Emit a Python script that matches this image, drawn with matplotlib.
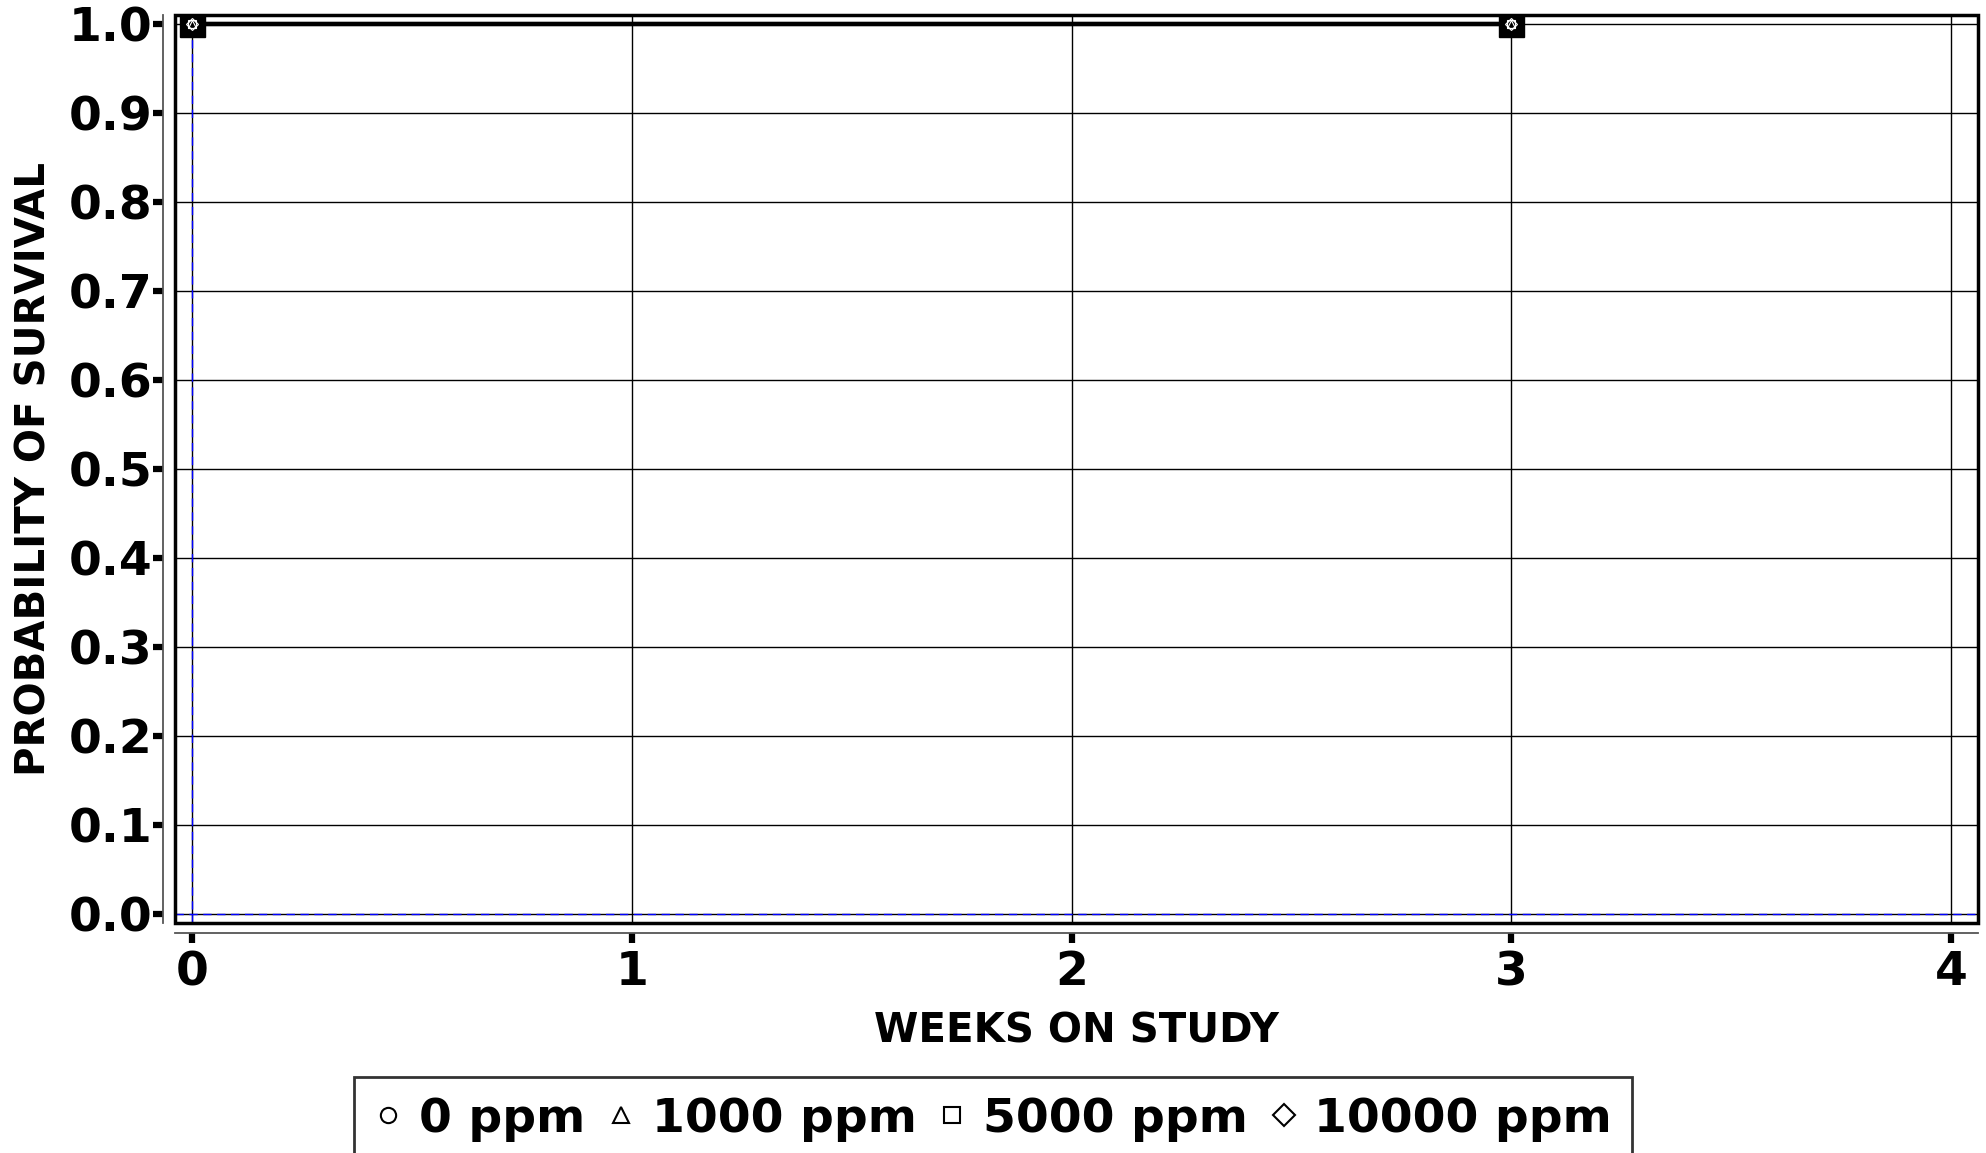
import matplotlib
matplotlib.use("Agg")
import matplotlib.pyplot as plt
from matplotlib.patches import Rectangle

# Survival data (Kaplan-Meier steps) per dose group
groups = ["0 ppm", "1000 ppm", "5000 ppm", "10000 ppm"]
markers = ["o", "^", "s", "D"]
weeks = [0, 3]
survival = {
    "0 ppm": [1.0, 1.0],
    "1000 ppm": [1.0, 1.0],
    "5000 ppm": [1.0, 1.0],
    "10000 ppm": [1.0, 1.0],
}
x_ticks = [0, 1, 2, 3, 4]
y_ticks = [0.0, 0.1, 0.2, 0.3, 0.4, 0.5, 0.6, 0.7, 0.8, 0.9, 1.0]

plt.rcParams["font.family"] = "DejaVu Sans"
plt.rcParams["font.weight"] = "bold"

fig = plt.figure(figsize=(19.86, 11.53), dpi=100)
ax = fig.add_axes([0.0881, 0.1995, 0.9079, 0.7875])

# grid and reference lines
ax.set_xticks(x_ticks)
ax.set_yticks(y_ticks)
ax.grid(True, color="black", linewidth=1.0)
ax.axvline(0, color="blue", linestyle="--", linewidth=1.0, dashes=(6, 4), zorder=2)
ax.axhline(0, color="blue", linestyle="--", linewidth=1.0, dashes=(6, 4), zorder=2)

# survival curves with group markers
for g, m in zip(groups, markers):
    ax.plot(weeks, survival[g], color="black", linewidth=3, zorder=3)
ax.plot(weeks, survival[groups[2]], linestyle="none", marker="s", markersize=18,
        markerfacecolor="black", markeredgecolor="black", zorder=4)
for g, m in zip(groups, markers):
    ax.plot(weeks, survival[g], linestyle="none", marker=m, markersize=6,
            markerfacecolor="none", markeredgecolor="white", markeredgewidth=0.8, zorder=5)

ax.set_xlim(-0.0387, 4.061)
ax.set_ylim(-0.0101, 1.0101)

# offset axis lines with heavy ticks, plus a separate frame
for s in ["top", "right"]:
    ax.spines[s].set_visible(False)
ax.spines["left"].set_position(("outward", 8.5))
ax.spines["bottom"].set_position(("outward", 7.5))
for s in ["left", "bottom"]:
    ax.spines[s].set_color("#555555")
    ax.spines[s].set_linewidth(1.3)
ax.add_patch(Rectangle((0, 0), 1, 1, transform=ax.transAxes, fill=False,
                       edgecolor="black", linewidth=2.5, clip_on=False, zorder=6))

ax.tick_params(axis="both", direction="out", length=7, width=4.5, color="black",
               labelsize=34)
ax.tick_params(axis="y", pad=1)
ax.tick_params(axis="x", pad=5)
ax.set_yticklabels([f"{v:.1f}" for v in y_ticks], fontweight="bold")
ax.set_xticklabels([str(v) for v in x_ticks], fontweight="bold")

ax.set_xlabel("WEEKS ON STUDY", fontsize=29, fontweight="bold", labelpad=12)
ax.set_ylabel("PROBABILITY OF SURVIVAL", fontsize=29, fontweight="bold", labelpad=10)

handles = [plt.Line2D([], [], linestyle="none", marker=m, markersize=11,
                      markerfacecolor="none", markeredgecolor="black", markeredgewidth=1.5)
           for m in markers]
leg = fig.legend(handles, groups, loc="upper center", bbox_to_anchor=(0.5, 0.066),
                 ncol=4, frameon=True, fancybox=False,
                 prop={"weight": "bold", "size": 34}, handlelength=0.6,
                 handletextpad=0.35, columnspacing=0.46, borderpad=0.42,
                 borderaxespad=0)
leg.get_frame().set_edgecolor("black")
leg.get_frame().set_linewidth(2)

fig.savefig("out.png", dpi=100)
